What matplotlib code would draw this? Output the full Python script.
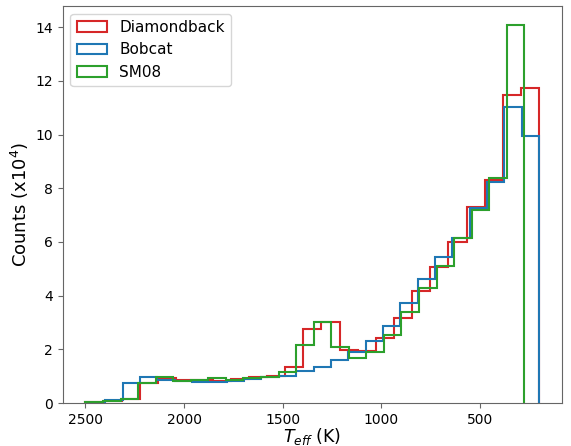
import numpy as np
import matplotlib
matplotlib.use("Agg")
from matplotlib import pyplot as plt

# counts per bin in units of 1e4, listed from hot (left) to cool (right)
n_bins = 25
diamondback_range = (200, 2500)
diamondback_counts = [0.02, 0.06, 0.15, 0.75, 0.93, 0.87, 0.87, 0.83, 0.91, 0.97,
                      1.00, 1.33, 2.75, 3.03, 1.98, 1.93, 2.43, 3.18, 4.17, 5.08,
                      6.00, 7.29, 8.31, 11.47, 11.72]
bobcat_range = (200, 2400)
bobcat_counts = [0.11, 0.73, 0.98, 0.87, 0.82, 0.77, 0.79, 0.83, 0.88, 0.95,
                 1.02, 1.19, 1.35, 1.60, 1.91, 2.32, 2.87, 3.71, 4.62, 5.45,
                 6.13, 7.27, 8.24, 11.04, 9.96]
sm08_range = (275, 2500)
sm08_counts = [0.04, 0.09, 0.14, 0.76, 0.98, 0.82, 0.85, 0.94, 0.87, 0.92,
               0.98, 1.14, 2.16, 3.00, 2.07, 1.69, 1.91, 2.53, 3.40, 4.27,
               5.11, 6.13, 7.19, 8.37, 14.08]

models = [
    ("Diamondback", diamondback_range, diamondback_counts, "tab:red"),
    ("Bobcat", bobcat_range, bobcat_counts, "tab:blue"),
    ("SM08", sm08_range, sm08_counts, "tab:green"),
]

fig = plt.figure(figsize=(5.71, 4.46), dpi=100)
ax = fig.add_axes([0.110, 0.0964, 0.874, 0.890])

for label, (lo, hi), counts, color in models:
    edges = np.linspace(lo, hi, n_bins + 1)
    centers = 0.5 * (edges[:-1] + edges[1:])
    # counts were read hot -> cold, edges run cold -> hot
    ax.hist(centers, bins=edges, weights=counts[::-1], histtype="step",
            color=color, lw=1.5, label=label)

ax.invert_xaxis()
for spine in ax.spines.values():
    spine.set_color("0.4")
ax.tick_params(labelsize=10, color="0.4")
ax.set_xlabel(r"$T_{eff}$ (K)", fontsize=12.5, labelpad=-0.5)
ax.set_ylabel(r"Counts (x10$^4$)", fontsize=13, labelpad=3)
ax.legend(loc="upper left", fontsize=11)

fig.savefig("out.png", dpi=100)
